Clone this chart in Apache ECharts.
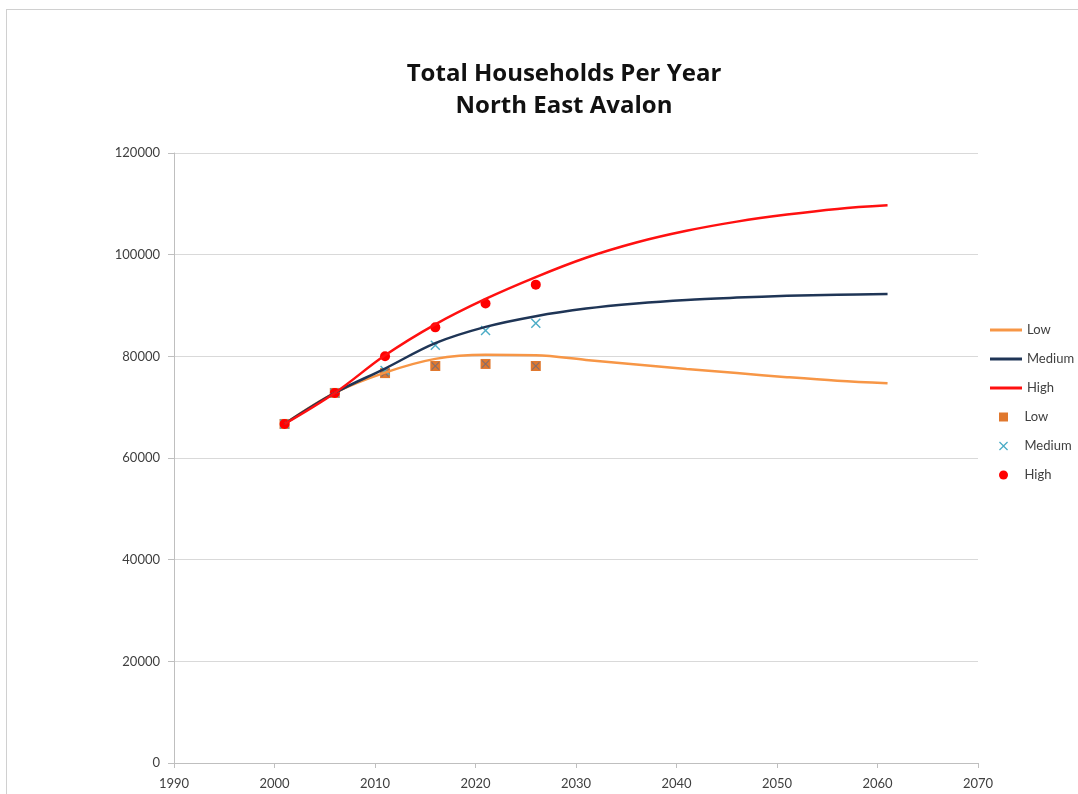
<!DOCTYPE html>
<html style="height: 100%">
<head>
    <meta charset="utf-8">
</head>
<body style="height: 100%; margin: 0; background: #fff">
<div id="frame" style="position: absolute; left: 6px; top: 9px; width: 1090px; height: 800px; border: 1px solid #d0d0d0; box-sizing: border-box"></div>
<div id="container" style="position: absolute; left: 0; top: 0; width: 1078px; height: 794px"></div>
<script type="text/javascript" src="https://cdn.jsdelivr.net/npm/echarts@6/dist/echarts.min.js"></script>
<script type="text/javascript">
    // projection years (lines) and census years (points)
    var lineYears = [2001, 2006, 2011, 2016, 2021, 2026, 2031, 2036, 2041, 2046, 2051, 2056, 2061];
    var lowLine = [66700, 72800, 76800, 79500, 80300, 80200, 79300, 78400, 77500, 76700, 75900, 75200, 74700];
    var mediumLine = [66700, 72800, 77600, 82600, 85800, 87900, 89400, 90400, 91100, 91550, 91900, 92100, 92250];
    var highLine = [66700, 72800, 80200, 86300, 91300, 95600, 99400, 102400, 104700, 106500, 107900, 109000, 109700];

    var pointYears = [2001, 2006, 2011, 2016, 2021, 2026];
    var lowPoints = [66700, 72800, 76700, 78100, 78500, 78100];
    var mediumPoints = [66700, 72800, 77200, 82200, 85100, 86500];
    var highPoints = [66700, 72800, 80000, 85700, 90400, 94100];

    function pairs(xs, ys) {
        var out = [];
        for (var i = 0; i < xs.length; i++) {
            out.push([xs[i], ys[i]]);
        }
        return out;
    }

    var squarePath = 'path://M0,0L10,0L10,10L0,10Z';
    var crossPath = 'path://M0,1L1,0L5,4L9,0L10,1L6,5L10,9L9,10L5,6L1,10L0,9L4,5Z';
    var labelFont = 'Lato, "Open Sans", sans-serif';
    var legendText = { fontFamily: labelFont, fontSize: 13, color: '#404040', lineHeight: 14 };

    var dom = document.getElementById("container");
    var myChart = echarts.init(dom);
    var option = {
        backgroundColor: 'transparent',
        animation: false,
        title: {
            text: 'Total Households Per Year\nNorth East Avalon',
            left: 559,
            top: 53,
            textAlign: 'center',
            textStyle: {
                fontFamily: '"Open Sans", Lato, sans-serif',
                fontSize: 24,
                fontWeight: 'bold',
                color: '#111',
                lineHeight: 32
            }
        },
        legend: [{
            orient: 'vertical',
            left: 985,
            top: 318,
            itemWidth: 32,
            itemHeight: 3,
            itemGap: 15,
            textStyle: legendText,
            data: [
                { name: 'Low', icon: 'rect' },
                { name: 'Medium', icon: 'rect' },
                { name: 'High', icon: 'rect' }
            ]
        }, {
            orient: 'vertical',
            left: 994,
            top: 405,
            itemWidth: 32,
            itemHeight: 9,
            itemGap: 15,
            symbolKeepAspect: true,
            formatter: function (name) { return name.split(' ')[0]; },
            textStyle: legendText,
            data: [
                { name: 'Low points', icon: squarePath },
                { name: 'Medium points', icon: crossPath },
                { name: 'High points', icon: 'circle' }
            ]
        }],
        grid: {
            left: 174,
            right: 100,
            top: 153,
            bottom: 31
        },
        xAxis: {
            type: 'value',
            min: 1990,
            max: 2070,
            interval: 10,
            axisLine: { show: true, lineStyle: { color: '#bfbfbf' } },
            axisTick: { show: true, length: 5, lineStyle: { color: '#bfbfbf' } },
            splitLine: { show: false },
            axisLabel: {
                fontFamily: labelFont, fontSize: 13, color: '#404040', margin: 14,
                formatter: function (v) { return String(v); }
            }
        },
        yAxis: {
            type: 'value',
            min: 0,
            max: 120000,
            interval: 20000,
            axisLine: { show: true, lineStyle: { color: '#bfbfbf' } },
            axisTick: { show: true, length: 6, lineStyle: { color: '#bfbfbf' } },
            splitLine: { show: true, lineStyle: { color: '#d9d9d9' } },
            axisLabel: {
                fontFamily: labelFont, fontSize: 13, color: '#404040', margin: 14,
                formatter: function (v) { return String(v); }
            }
        },
        series: [{
            name: 'Low',
            type: 'line',
            smooth: 0.35,
            symbol: 'none',
            lineStyle: { width: 2.5, color: '#F79646' },
            itemStyle: { color: '#F79646' },
            data: pairs(lineYears, lowLine)
        }, {
            name: 'Medium',
            type: 'line',
            smooth: 0.35,
            symbol: 'none',
            lineStyle: { width: 2.5, color: '#1F3556' },
            itemStyle: { color: '#1F3556' },
            data: pairs(lineYears, mediumLine)
        }, {
            name: 'High',
            type: 'line',
            smooth: 0.35,
            symbol: 'none',
            lineStyle: { width: 2.5, color: '#FF1010' },
            itemStyle: { color: '#FF1010' },
            data: pairs(lineYears, highLine)
        }, {
            name: 'Low points',
            type: 'scatter',
            symbol: squarePath,
            symbolSize: 10,
            itemStyle: { color: '#E0782E', opacity: 1 },
            data: pairs(pointYears, lowPoints)
        }, {
            // grey cross drawn over the squares, as in the source image
            name: 'Low points',
            type: 'scatter',
            symbol: crossPath,
            symbolSize: 8,
            itemStyle: { color: '#6E6A7A', opacity: 0.8 },
            data: pairs(pointYears, lowPoints)
        }, {
            name: 'Medium points',
            type: 'scatter',
            symbol: crossPath,
            symbolSize: 10,
            itemStyle: { color: '#4BACC6', opacity: 1 },
            data: pairs(pointYears, mediumPoints)
        }, {
            name: 'High points',
            type: 'scatter',
            symbol: 'circle',
            symbolSize: 10,
            itemStyle: { color: '#FF0000', opacity: 1 },
            data: pairs(pointYears, highPoints)
        }]
    };
    myChart.setOption(option, true);
</script>
</body>
</html>
